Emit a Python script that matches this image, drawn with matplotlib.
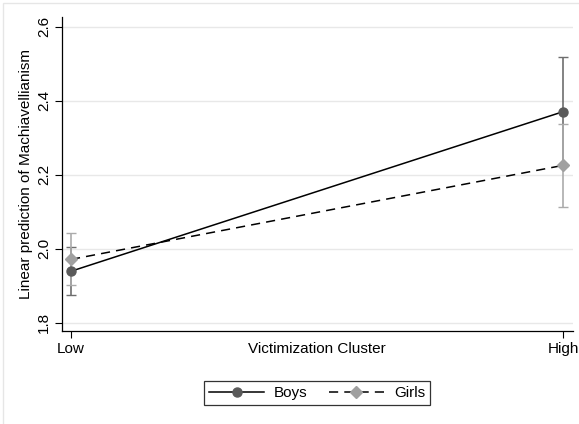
import matplotlib.pyplot as plt
from matplotlib.patches import Rectangle

plt.rcParams['font.family'] = ['Liberation Sans', 'DejaVu Sans']

# margins by victimization cluster
clusters = ["Low", "High"]
boys = [1.939, 2.370]
boys_lo = [1.874, 2.223]
boys_hi = [2.004, 2.517]
girls = [1.971, 2.225]
girls_lo = [1.901, 2.113]
girls_hi = [2.041, 2.337]
yticks = [1.8, 2.0, 2.2, 2.4, 2.6]

x = list(range(len(clusters)))
fs = 11

fig = plt.figure(figsize=(5.79, 4.24), dpi=100)
fig.patches.append(Rectangle((3 / 579, -0.1), 1.2, (421 / 424) + 0.1,
                             transform=fig.transFigure, fill=False,
                             edgecolor="#e6e6e6", lw=1))
ax = fig.add_axes([62 / 579, 93 / 424, 511 / 579, 313.7 / 424])

# confidence intervals
ax.errorbar(x, boys, yerr=[[b - l for b, l in zip(boys, boys_lo)],
                           [h - b for b, h in zip(boys, boys_hi)]],
            fmt="none", ecolor="#6e6e6e", elinewidth=1.2, capsize=3.5, zorder=2)
ax.errorbar(x, girls, yerr=[[g - l for g, l in zip(girls, girls_lo)],
                            [h - g for g, h in zip(girls, girls_hi)]],
            fmt="none", ecolor="#ababab", elinewidth=1.2, capsize=3.5, zorder=2)

# point estimates
ax.plot(x, boys, color="black", lw=1.1, ls="-", marker="o", ms=6.5,
        mfc="#5a5a5a", mec="#5a5a5a", label="Boys", zorder=3)
ax.plot(x, girls, color="black", lw=1.1, ls=(0, (6, 4)), marker="D", ms=6.5,
        mfc="#a0a0a0", mec="#a0a0a0", label="Girls", zorder=3)

ax.set_xlim(-0.0183, 1.0203)
ax.set_ylim(1.7776, 2.625)
ax.set_xticks(x)
ax.set_xticklabels(clusters, fontsize=fs)
ax.set_yticks(yticks)
ax.set_yticklabels([f"{v:.1f}" for v in yticks], fontsize=fs, rotation=90, va="center")
ax.tick_params(direction="out", length=5, width=0.8, colors="black", pad=3)
ax.grid(axis="y", color="#e8e8e8", lw=1)
ax.set_axisbelow(True)
for s in ["top", "right"]:
    ax.spines[s].set_visible(False)
for s in ["left", "bottom"]:
    ax.spines[s].set_linewidth(0.9)

ax.set_ylabel("Linear prediction of Machiavellianism", fontsize=fs, labelpad=3)
fig.text(317 / 579, 1 - 349 / 424, "Victimization Cluster", fontsize=fs,
         ha="center", va="center")

leg = fig.legend(loc="center", bbox_to_anchor=(317 / 579, 1 - 393 / 424), ncol=2,
                 frameon=True, fancybox=False, edgecolor="black", fontsize=fs,
                 handlelength=3.6, columnspacing=1.4, handletextpad=0.65,
                 borderpad=0.35)
leg.get_frame().set_linewidth(0.9)

fig.savefig("out.png", dpi=100)
